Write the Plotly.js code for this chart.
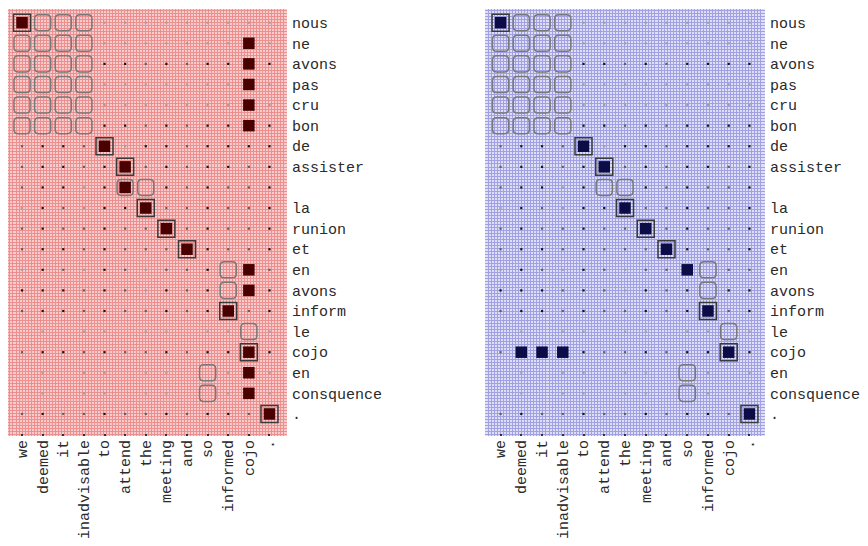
<!DOCTYPE html>
<html><head><meta charset="utf-8">
<script src="https://cdn.plot.ly/plotly-3.0.1.min.js"></script>
<style>html,body{margin:0;padding:0;background:#fff;}#chart{width:868px;height:546px;}</style>
</head><body><div id="chart"></div>
<script>
// English words (columns) and French words (rows)
const english = ['we','deemed','it','inadvisable','to','attend','the','meeting','and','so','informed','cojo','.'];
const french = ['nous','ne','avons','pas','cru','bon','de','assister','','la','runion','et','en','avons','inform','le','cojo','en','consquence','.'];

// Gold "sure" alignments (col, row)
const sureCols = [0,4,5,6,7,8,10,11,12];
const sureRows = [0,6,7,9,10,11,14,16,19];
// Gold "possible" alignments
const possCols = [1,2,3, 0,1,2,3, 0,1,2,3, 0,1,2,3, 0,1,2,3, 0,1,2,3, 5,6, 10,10, 11, 9,9];
const possRows = [0,0,0, 1,1,1,1, 2,2,2,2, 3,3,3,3, 4,4,4,4, 5,5,5,5, 8,8, 12,13, 15, 17,18];

// Predicted alignments, left (red) model
const leftCols = [0,11,11,11,11,11,4,5,5,6,7,8,11,11,10,11,11,11,12];
const leftRows = [0,1,2,3,4,5,6,7,8,9,10,11,12,13,14,16,17,18,19];
// Predicted alignments, right (blue) model
const rightCols = [0,4,5,6,7,8,9,10,1,2,3,11,12];
const rightRows = [0,6,7,9,10,11,12,14,16,16,16,16,19];

// Posterior dot shade per cell (0 none, 1 light, 2 grey, 3 dark), rows x cols
const dotShade = [
  '0000111111111',
  '0000111111111',
  '0000332323333',
  '0000111111111',
  '0000111111111',
  '0000332323333',
  '2332313323333',
  '2332332323323',
  '2331333323223',
  '1321333223223',
  '2322322323223',
  '2332322223223',
  '1321321223222',
  '3332321323333',
  '2332322323323',
  '0101101101101',
  '2332322323333',
  '0101101101101',
  '0101101101101',
  '2322322323323'
];

const shadeColor = ['rgba(0,0,0,0)','#a0a0a0','#606060','#151515'];
const monoFont = {family:'Liberation Mono, Courier New, monospace', size:15, color:'#2a2a2a'};

function occupied(cols, rows, c, r){
  for(let i=0;i<cols.length;i++){ if(cols[i]===c && rows[i]===r) return true; }
  return false;
}

function buildPanel(xa, ya, predCols, predRows, fillColor){
  const traces = [];
  const dx=[], dy=[], dc=[];
  for(let r=0;r<french.length;r++){
    for(let c=0;c<english.length;c++){
      const s = +dotShade[r][c];
      if(s===0) continue;
      if(occupied(predCols,predRows,c,r)||occupied(sureCols,sureRows,c,r)||occupied(possCols,possRows,c,r)) continue;
      dx.push(c); dy.push(r); dc.push(shadeColor[s]);
    }
  }
  traces.push({type:'scatter',mode:'markers',x:dx,y:dy,xaxis:xa,yaxis:ya,hoverinfo:'skip',
    marker:{symbol:'square',size:2.2,color:dc,line:{width:0}}});
  traces.push({type:'scatter',mode:'markers',x:sureCols,y:sureRows,xaxis:xa,yaxis:ya,hoverinfo:'skip',
    marker:{symbol:'square-open',size:17,color:'#3a3a3a',line:{width:1.5,color:'#3a3a3a'}}});
  traces.push({type:'scatter',mode:'markers',x:predCols,y:predRows,xaxis:xa,yaxis:ya,hoverinfo:'skip',
    marker:{symbol:'square',size:11.5,color:fillColor,line:{width:0}}});
  return traces;
}

function roundedPath(cx, cy){
  const h=0.39, r=0.2;
  const x0=cx-h, x1=cx+h, y0=cy-h, y1=cy+h;
  return `M${x0+r},${y0} L${x1-r},${y0} Q${x1},${y0} ${x1},${y0+r} L${x1},${y1-r} Q${x1},${y1} ${x1-r},${y1} L${x0+r},${y1} Q${x0},${y1} ${x0},${y1-r} L${x0},${y0+r} Q${x0},${y0} ${x0+r},${y0} Z`;
}

const shapes = [
  {type:'rect',xref:'x domain',yref:'y domain',x0:0,x1:1,y0:0,y1:1,fillcolor:'#f8cccc',line:{width:0},layer:'below'},
  {type:'rect',xref:'x2 domain',yref:'y2 domain',x0:0,x1:1,y0:0,y1:1,fillcolor:'#dedef7',line:{width:0},layer:'below'}
];
for(let i=0;i<possCols.length;i++){
  shapes.push({type:'path',xref:'x',yref:'y',path:roundedPath(possCols[i],possRows[i]),line:{color:'#787878',width:1.5},layer:'above'});
  shapes.push({type:'path',xref:'x2',yref:'y2',path:roundedPath(possCols[i],possRows[i]),line:{color:'#787878',width:1.5},layer:'above'});
}

const data = [].concat(
  buildPanel('x','y',leftCols,leftRows,'#480000'),
  buildPanel('x2','y2',rightCols,rightRows,'#0c0c46')
);

const colIdx = english.map((_,i)=>i);
const rowIdx = french.map((_,i)=>i);

function xAxis(domain, range, gridColor, anchor){
  return {domain:domain, range:range, anchor:anchor, tickvals:colIdx, ticktext:english, tickangle:-90,
    tickfont:monoFont, showgrid:false, zeroline:false, showline:false,
    ticks:'inside', ticklen:2, tickwidth:2, tickcolor:'#333',
    minor:{dtick:0.146, tick0:0, showgrid:true, gridcolor:gridColor, gridwidth:1, ticks:''}};
}
function yAxis(domain, gridColor, anchor){
  return {domain:domain, range:[20.07,-0.665], anchor:anchor, side:'right', tickvals:rowIdx, ticktext:french,
    tickfont:monoFont, showgrid:false, zeroline:false, showline:false, ticks:'', ticklabelstandoff:4,
    minor:{dtick:0.146, tick0:0, showgrid:true, gridcolor:gridColor, gridwidth:1, ticks:''}};
}

const layout = {
  width:868, height:546, margin:{l:0,r:0,t:0,b:0},
  paper_bgcolor:'#ffffff', plot_bgcolor:'rgba(0,0,0,0)', showlegend:false,
  xaxis: xAxis([0.00922,0.33065],[-0.68,12.85],'#ec8f8f','y'),
  yaxis: yAxis([0.20147,0.98352],'#ec8f8f','x'),
  xaxis2: xAxis([0.55876,0.88134],[-0.75,12.75],'#a0a0e2','y2'),
  yaxis2: yAxis([0.20147,0.98352],'#a0a0e2','x2'),
  shapes: shapes
};

Plotly.newPlot('chart', data, layout, {staticPlot:true, displayModeBar:false});
</script></body></html>
